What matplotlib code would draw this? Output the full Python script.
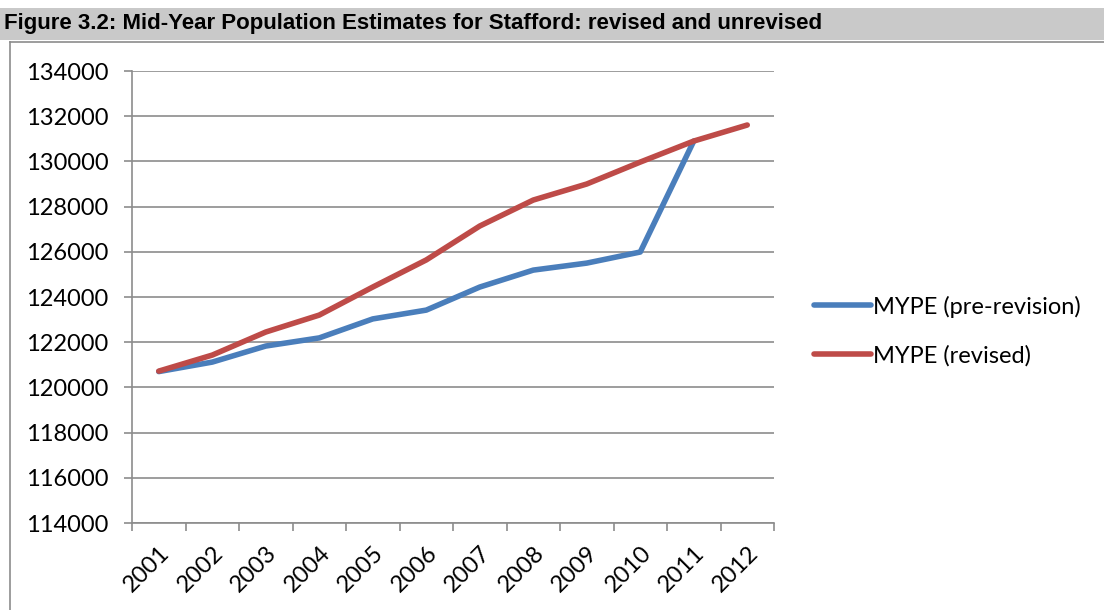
import matplotlib.pyplot as plt
from matplotlib.patches import Rectangle
from matplotlib.lines import Line2D
import numpy as np

years = ["2001", "2002", "2003", "2004", "2005", "2006",
         "2007", "2008", "2009", "2010", "2011", "2012"]
pre_revision = [120700, 121120, 121830, 122190, 123030, 123420,
                124440, 125190, 125500, 125990, 130900]
revised = [120720, 121430, 122450, 123200, 124440, 125640,
           127140, 128290, 129000, 129970, 130900, 131610]
yticks = list(range(114000, 134001, 2000))

W, H = 1104, 610
fig = plt.figure(figsize=(W / 100, H / 100), dpi=100)
tick_font = ['Lato', 'DejaVu Sans']

# title bar and chart frame
fig.patches.append(Rectangle((0, 1 - 40 / H), 1, 32 / H, transform=fig.transFigure,
                             facecolor='#c9c9c9', edgecolor='none', zorder=0))
fig.text(4 / W, 1 - 24 / H, "Figure 3.2: Mid-Year Population Estimates for Stafford: revised and unrevised",
         fontsize=16, fontweight='bold', family=['Liberation Sans Narrow', 'Liberation Sans', 'DejaVu Sans'],
         va='center', ha='left')
fig.add_artist(Line2D([10 / W, 10 / W], [0, 1 - 42 / H], transform=fig.transFigure, color='#8c8c8c', lw=1.2))
fig.add_artist(Line2D([10 / W, 1], [1 - 42 / H, 1 - 42 / H], transform=fig.transFigure, color='#8c8c8c', lw=1.2))

ax = fig.add_axes([132 / W, 1 - 523 / H, (774 - 132) / W, (523 - 71) / H])
x = np.arange(len(years))
ax.plot(x[:len(pre_revision)], pre_revision, color='#4a7ebb', lw=4, solid_capstyle='round',
        solid_joinstyle='round', label='MYPE (pre-revision)', zorder=3)
ax.plot(x, revised, color='#be4b48', lw=4, solid_capstyle='round',
        solid_joinstyle='round', label='MYPE (revised)', zorder=3)

ax.set_xlim(-0.5, len(years) - 0.5)
ax.set_ylim(yticks[0], yticks[-1])
ax.set_yticks(yticks)
ax.set_yticklabels([str(v) for v in yticks], family=tick_font, fontsize=17)
ax.yaxis.grid(True, color='#8c8c8c', lw=1.2)
ax.set_axisbelow(True)

ax.set_xticks(np.arange(len(years) + 1) - 0.5)
ax.set_xticklabels([])
ax.set_xticks(x, minor=True)
ax.set_xticklabels(years, minor=True, rotation=45, ha='right', rotation_mode='anchor',
                   family=tick_font, fontsize=17)
ax.tick_params(axis='x', which='minor', length=0, pad=14)
ax.tick_params(axis='both', which='major', length=6, width=1.2, color='#8c8c8c')
ax.tick_params(axis='y', pad=11)

for s in ['top', 'right']:
    ax.spines[s].set_visible(False)
for s in ['left', 'bottom']:
    ax.spines[s].set_color('#8c8c8c')
    ax.spines[s].set_linewidth(1.2)

leg = ax.legend(loc='center left', bbox_to_anchor=(793 / W, 1 - 331 / H),
                bbox_transform=fig.transFigure, frameon=False, handlelength=2.4,
                handletextpad=0.1, labelspacing=1.15, prop={'family': tick_font, 'size': 17})

fig.savefig('out.png', dpi=100)
